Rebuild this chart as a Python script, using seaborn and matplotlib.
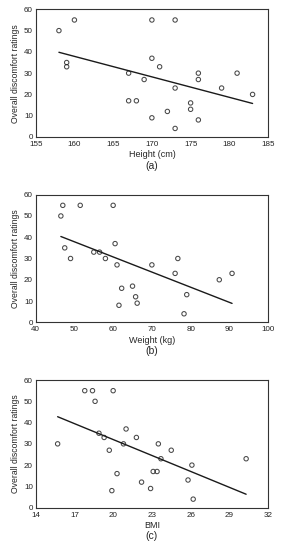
import matplotlib
matplotlib.use("Agg")
import matplotlib.pyplot as plt
import seaborn as sns
import pandas as pd

sns.set_style("white")
plt.rcParams['font.family'] = ['Liberation Sans', 'DejaVu Sans']

height = [158, 160, 159, 159, 167, 167, 168, 169, 170, 170, 170, 171, 172, 173, 173, 173, 175, 175, 176, 176, 176, 179, 181, 183]
rating_a = [50, 55, 35, 33, 30, 17, 17, 27, 55, 37, 9, 33, 12, 55, 23, 4, 16, 13, 30, 27, 8, 23, 30, 20]

weight = [46.5, 47, 47.5, 49, 51.5, 55, 56.5, 58, 60, 60.5, 61, 61.5, 62.2, 65, 65.8, 66.2, 70, 76, 76.7, 78.3, 79, 87.4, 90.7]
rating_b = [50, 55, 35, 30, 55, 33, 33, 30, 55, 37, 27, 8, 16, 17, 12, 9, 27, 23, 30, 4, 13, 20, 23]

bmi = [15.7, 17.8, 18.4, 18.6, 18.9, 19.3, 19.7, 19.9, 20.0, 20.3, 20.8, 21.0, 21.8, 22.2, 22.9, 23.1, 23.4, 23.5, 23.7, 24.5, 25.8, 26.1, 26.2, 30.3]
rating_c = [30, 55, 55, 50, 35, 33, 27, 8, 55, 16, 30, 37, 33, 12, 9, 17, 17, 30, 23, 27, 13, 20, 4, 23]

panels = [
    (height, rating_a, "Height (cm)", "(a)", (155, 185), [155, 160, 165, 170, 175, 180, 185]),
    (weight, rating_b, "Weight (kg)", "(b)", (40, 100), [40, 50, 60, 70, 80, 90, 100]),
    (bmi, rating_c, "BMI", "(c)", (14, 32), [14, 17, 20, 23, 26, 29, 32]),
]

fig = plt.figure(figsize=(2.81, 5.5), dpi=100)
bottoms = [0.751, 0.414, 0.077]
for (x, y, xl, tag, xlim, xt), b in zip(panels, bottoms):
    ax = fig.add_axes([0.127, b, 0.827, 0.232])
    df = pd.DataFrame({"x": x, "y": y})
    sns.regplot(data=df, x="x", y="y", ax=ax, ci=None, truncate=True,
                scatter_kws=dict(s=10, facecolors="none", edgecolors="#1a1a1a", linewidths=0.75),
                line_kws=dict(color="#1a1a1a", lw=1.0))
    ax.set_xlim(*xlim)
    ax.set_ylim(0, 60)
    ax.set_xticks(xt)
    ax.set_yticks([0, 10, 20, 30, 40, 50, 60])
    ax.tick_params(direction="in", length=2, width=0.6, labelsize=5.8, colors="#222222")
    ax.tick_params(axis="x", pad=3)
    ax.tick_params(axis="y", pad=2)
    for s in ax.spines.values():
        s.set_linewidth(0.8)
        s.set_color("#333333")
    ax.set_xlabel(xl, fontsize=6.5, labelpad=1.5)
    ax.set_ylabel("Overall discomfort ratings", fontsize=6.2, labelpad=3)
    ax.text(0.5, -0.225, tag, transform=ax.transAxes, ha="center", va="center", fontsize=7.5)

fig.savefig("out.png", dpi=100)
